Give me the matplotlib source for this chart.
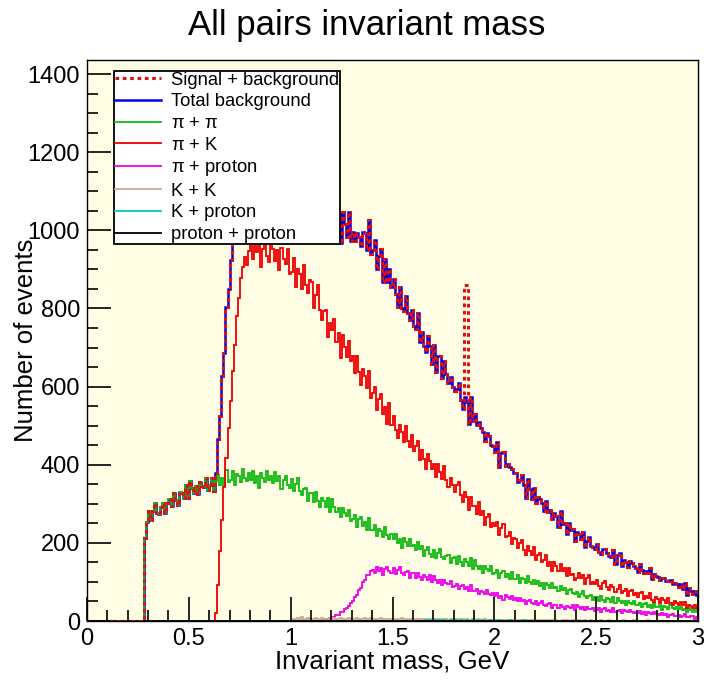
import matplotlib
matplotlib.use("Agg")
import matplotlib.pyplot as plt
import numpy as np

plt.rcParams['font.family'] = ['Liberation Sans', 'DejaVu Sans']

# binning: 300 bins of 0.01 GeV between 0 and 3 GeV
mass_lo = 0.0
mass_hi = 3.0
n_bins = 300

# pi + pi, bins from 0.28 GeV on
pipi_start = 0.28
pipi = [
    212, 254,
    281, 258, 281, 301, 277, 274, 293, 301, 277, 301,
    313, 294, 328, 310, 298, 330, 327, 315, 348, 315,
    359, 340, 327, 346, 324, 355, 345, 342, 365, 336,
    347, 365, 334, 359, 373, 348, 367, 345, 387, 357,
    362, 383, 348, 376, 371, 356, 389, 366, 359, 379,
    362, 383, 354, 371, 341, 379, 367, 357, 385, 360,
    370, 352, 381, 359, 370, 337, 361, 372, 349, 341,
    364, 332, 351, 366, 334, 323, 337, 340, 307, 327,
    327, 304, 329, 308, 291, 315, 306, 291, 316, 279,
    313, 292, 278, 289, 265, 289, 276, 269, 285, 256,
    261, 272, 241, 260, 267, 242, 253, 232, 263, 233,
    233, 247, 217, 236, 230, 215, 240, 219, 211, 223,
    210, 223, 200, 210, 186, 213, 202, 193, 211, 192,
    195, 181, 201, 185, 192, 166, 182, 190, 172, 165,
    182, 161, 174, 184, 164, 158, 167, 170, 148, 161,
    163, 147, 166, 151, 140, 158, 152, 142, 160, 134,
    155, 142, 132, 141, 124, 141, 133, 128, 140, 120,
    123, 130, 111, 123, 128, 112, 120, 107, 126, 108,
    107, 117, 97, 110, 107, 98, 114, 100, 95, 104,
    95, 103, 89, 96, 81, 97, 91, 85, 97, 84,
    86, 77, 90, 80, 84, 68, 79, 83, 72, 68,
    75, 62, 70, 76, 64, 60, 65, 66, 53, 61,
    61, 52, 64, 55, 48, 59, 56, 49, 61, 46,
    59, 51, 46, 51, 42, 52, 47, 44, 52, 40,
    42, 47, 36, 43, 46, 37, 42, 33, 47, 35,
    35, 41, 29, 38, 36, 30, 41, 32, 30, 36,
    30, 35, 27, 31, 22, 32, 27, 24, 31, 24,
]

# pi + K, bins from 0.63 GeV on
pik_start = 0.63
pik = [
    20, 92, 178, 259, 342, 418, 493,
    562, 641, 706, 781, 826, 879, 905, 931, 912, 948,
    959, 926, 986, 944, 968, 905, 953, 977, 935, 920,
    998, 952, 921, 950, 898, 954, 926, 913, 951, 887,
    893, 929, 854, 902, 887, 851, 911, 860, 839, 872,
    869, 802, 835, 861, 795, 770, 794, 796, 727, 762,
    745, 774, 714, 736, 673, 732, 702, 677, 717, 666,
    678, 635, 679, 638, 604, 646, 628, 597, 641, 572,
    583, 600, 539, 569, 580, 531, 549, 505, 558, 502,
    525, 490, 468, 501, 484, 457, 500, 461, 445, 476,
    435, 449, 462, 411, 438, 415, 389, 428, 409, 389,
    403, 368, 403, 382, 363, 398, 361, 342, 367, 348,
    331, 349, 356, 322, 305, 331, 317, 284, 318, 294,
    295, 273, 305, 271, 282, 247, 265, 273, 240, 252,
    242, 253, 221, 238, 248, 215, 217, 227, 196, 212,
    211, 187, 199, 208, 182, 169, 193, 180, 169, 190,
    155, 170, 174, 151, 155, 170, 141, 152, 128, 150,
    140, 128, 147, 129, 135, 114, 135, 117, 121, 106,
    110, 124, 109, 117, 95, 109, 119, 94, 101, 95,
    105, 90, 83, 97, 103, 87, 80, 92, 87, 74,
    83, 93, 72, 76, 82, 64, 78, 80, 66, 71,
    62, 71, 74, 56, 65, 60, 71, 55, 49, 61,
    57, 46, 59, 53, 47, 60, 46, 42, 52, 45,
    41, 48, 41, 48, 34, 41, 38, 32, 40, 33,
]

# pi + proton, bins from 1.15 GeV on
piproton_start = 1.15
piproton = [
    2, 4, 3, 6, 8,
    10, 9, 16, 15, 23, 22, 31, 33, 38, 47,
    50, 62, 66, 80, 85, 101, 104, 117, 118, 127,
    130, 122, 139, 127, 135, 118, 132, 138, 127, 124,
    136, 120, 130, 139, 123, 118, 126, 128, 111, 122,
    122, 111, 123, 113, 105, 117, 112, 105, 118, 99,
    115, 104, 97, 104, 92, 104, 97, 94, 103, 87,
    89, 95, 81, 89, 93, 81, 86, 76, 91, 77,
    76, 83, 68, 78, 75, 68, 80, 70, 66, 72,
    65, 71, 60, 65, 54, 66, 61, 56, 65, 55,
    58, 51, 60, 52, 55, 44, 52, 55, 46, 43,
    51, 40, 47, 52, 42, 38, 43, 45, 34, 41,
    41, 34, 42, 36, 31, 39, 36, 32, 40, 29,
    40, 35, 30, 35, 27, 35, 31, 30, 34, 26,
    29, 33, 23, 30, 32, 25, 29, 23, 32, 24,
    25, 29, 21, 27, 25, 22, 27, 23, 20, 24,
    21, 26, 19, 22, 16, 23, 20, 18, 23, 18,
    19, 16, 21, 16, 19, 11, 16, 19, 13, 12,
    16, 11, 14, 18, 11, 9, 12, 13, 6, 10,
]

# K + K, bins from 1.00 GeV on
kk_start = 1.00
kk = [
    3, 6, 4, 8, 5, 10, 6, 4, 7, 5,
    6, 4, 8, 5, 3, 7, 5, 6, 4, 7,
    5, 8, 4, 6, 7, 3, 6, 5, 8, 4,
    6, 4, 7, 5, 3, 6, 8, 4, 5, 7,
    4, 6, 5, 3, 7, 4, 6, 5, 4, 6,
    5, 3, 6, 4, 7, 5, 3, 6, 4, 5,
    4, 6, 3, 5, 4, 6, 3, 5, 4, 3,
    5, 3, 4, 6, 3, 4, 5, 3, 4, 2,
    4, 3, 5, 2, 4, 3, 4, 2, 3, 4,
    3, 2, 4, 3, 2, 4, 3, 2, 3, 2,
    2, 3, 1, 3, 2, 2, 3, 1, 2, 3,
    2, 1, 3, 2, 1, 2, 3, 1, 2, 2,
    1, 2, 2, 1, 3, 1, 2, 1, 2, 1,
    2, 1, 1, 2, 1, 2, 1, 1, 2, 1,
    1, 2, 1, 1, 2, 1, 1, 2, 1, 1,
    1, 1, 2, 1, 1, 1, 2, 1, 1, 1,
    1, 1, 1, 2, 1, 1, 1, 1, 2, 1,
    1, 1, 1, 1, 1, 2, 1, 1, 1, 1,
    1, 1, 1, 1, 1, 1, 1, 1, 1, 1,
    1, 0, 1, 1, 0, 1, 1, 0, 1, 0,
]

# K + proton, bins from 1.60 GeV on
kproton_start = 1.60
kproton = [
    0, 1, 0, 1, 1, 0, 2, 1, 2, 1,
    1, 2, 1, 2, 1, 2, 1, 1, 2, 1,
    2, 1, 1, 2, 1, 1, 2, 1, 1, 2,
    1, 2, 1, 1, 2, 1, 1, 1, 2, 1,
    1, 1, 2, 1, 1, 1, 1, 2, 1, 1,
    1, 1, 1, 1, 2, 1, 1, 1, 1, 1,
    1, 1, 1, 1, 1, 1, 1, 1, 1, 1,
    1, 1, 0, 1, 1, 0, 1, 1, 0, 1,
    1, 0, 1, 0, 1, 1, 0, 1, 0, 1,
    0, 1, 0, 1, 0, 1, 0, 0, 1, 0,
    0, 1, 0, 0, 1, 0, 0, 1, 0, 0,
    0, 0, 1, 0, 0, 0, 1, 0, 0, 0,
    0, 0, 0, 1, 0, 0, 0, 0, 1, 0,
    0, 0, 0, 0, 0, 1, 0, 0, 0, 0,
]

# proton + proton: essentially empty
pp_start = 2.20
pp = [0, 1, 0, 0, 0, 1, 0, 0, 0, 0, 0, 0, 1, 0, 0, 0, 0, 0, 0, 0]

# D0 signal on top of background
signal_start = 1.85
signal = [285, 300]


def full(start, vals):
    h = np.zeros(n_bins)
    i0 = int(round((start - mass_lo) / (mass_hi - mass_lo) * n_bins))
    h[i0:i0 + len(vals)] = vals
    return h


edges = np.linspace(mass_lo, mass_hi, n_bins + 1)
h_pipi = full(pipi_start, pipi)
h_pik = full(pik_start, pik)
h_piproton = full(piproton_start, piproton)
h_kk = full(kk_start, kk)
h_kproton = full(kproton_start, kproton)
h_pp = full(pp_start, pp)
h_total = h_pipi + h_pik + h_piproton + h_kk + h_kproton + h_pp
h_sig = h_total + full(signal_start, signal)

fig = plt.figure(figsize=(7.06, 6.85), dpi=100)
ax = fig.add_axes([87 / 706, 64 / 685, 611 / 706, 561 / 685])
ax.set_facecolor('#fffde3')

s_tot = ax.stairs(h_total, edges, color='#0000ee', lw=1.8, label='Total background')
s_pipi = ax.stairs(h_pipi, edges, color='#11bb11', lw=1.3, label=r'$\mathregular{\pi}$ + $\mathregular{\pi}$')
s_pik = ax.stairs(h_pik, edges, color='#ee0000', lw=1.3, label=r'$\mathregular{\pi}$ + K')
s_pp_ = ax.stairs(h_piproton, edges, color='#ee00ee', lw=1.3, label=r'$\mathregular{\pi}$ + proton')
s_kk = ax.stairs(h_kk, edges, color='#c8ab90', lw=1.3, label='K + K')
s_kp = ax.stairs(h_kproton, edges, color='#00c8c8', lw=1.3, label='K + proton')
s_ppp = ax.stairs(h_pp, edges, color='black', lw=1.3, label='proton + proton')
s_sig = ax.stairs(h_sig, edges, color='#dd1111', lw=2.2, ls=(0, (1.2, 1.2)), label='Signal + background')

ax.set_xlim(0, 3)
ax.set_ylim(0, 1436)
ax.set_xticks(np.arange(0, 3.01, 0.5))
ax.set_xticks(np.arange(0, 3.01, 0.1), minor=True)
ax.set_xticklabels(['0', '0.5', '1', '1.5', '2', '2.5', '3'])
ax.set_yticks(np.arange(0, 1401, 200))
ax.set_yticks(np.arange(0, 1401, 50), minor=True)
ax.tick_params(direction='in', which='major', length=17, width=1.2, labelsize=17, pad=5)
ax.tick_params(direction='in', which='minor', length=8, width=1.2)
ax.tick_params(top=False, right=False, which='both')
for sp in ax.spines.values():
    sp.set_linewidth(1.0)

ax.set_xlabel('Invariant mass, GeV', fontsize=18.6, labelpad=0)
ax.set_ylabel('Number of events', fontsize=18.5)
ax.yaxis.set_label_coords(-0.08, 0.5)

fig.text(367 / 706, 1 - 26 / 685, 'All pairs invariant mass', ha='center', va='center', fontsize=25)

handles = [s_sig, s_tot, s_pipi, s_pik, s_pp_, s_kk, s_kp, s_ppp]
leg = ax.legend(handles=handles, loc='upper left', bbox_to_anchor=(114 / 706, 1 - 71 / 685),
                bbox_transform=fig.transFigure, fontsize=13.2, frameon=True, fancybox=False,
                edgecolor='black', framealpha=1, borderaxespad=0, handlelength=2.5,
                handletextpad=0.55, labelspacing=0.25, borderpad=0.05)
leg.get_frame().set_linewidth(1.3)

fig.savefig('out.png', dpi=100)
